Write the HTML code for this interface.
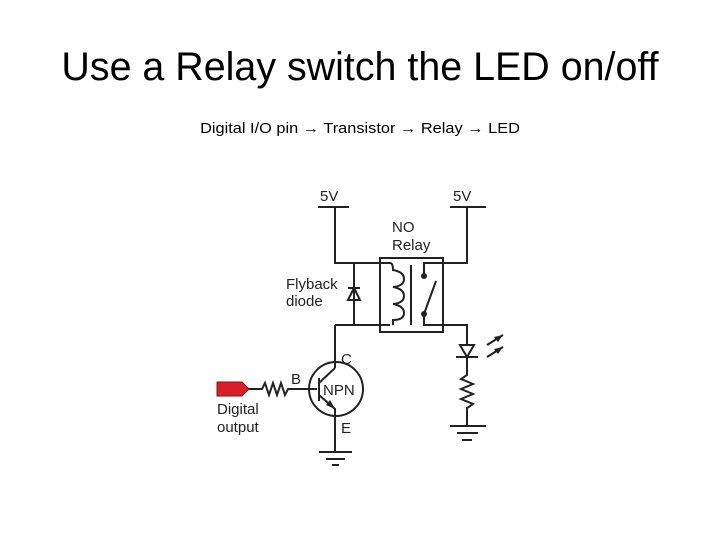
<!DOCTYPE html>
<html><head><style>
body{margin:0;width:720px;height:540px;background:#fff;overflow:hidden;position:relative;font-family:"Liberation Sans",sans-serif}
.t{position:absolute;left:0;width:720px;text-align:center;white-space:nowrap}
</style></head><body>
<div class="t" style="top:42px;font-size:40px;line-height:50px;transform:scaleX(0.985)">Use a Relay switch the LED on/off</div>
<div class="t" style="top:119px;font-size:15px;line-height:20px;transform:scaleX(1.09)">Digital I/O pin → Transistor → Relay → LED</div>
<svg width="720" height="540" style="position:absolute;left:0;top:0" font-family="Liberation Sans, sans-serif" font-size="15" fill="#222">
<g stroke="#222" stroke-width="2" fill="none">
<path d="M318 207H349M335 207V263H390M450 207H486M467 207V263H424V275"/>
<path d="M354 263V325M335 325H390M335 325V368"/>
<rect x="380" y="258" width="63" height="74"/>
<path d="M390 263Q393 263 393 270Q404 272 404 279Q404 286 393 287Q404 289 404 296Q404 303 393 304Q404 306 404 313Q404 320 393 320V325"/>
<path d="M411 265V325"/>
<path d="M424 314L436 281M424 314V325H467V345"/>
<path d="M456 357H478M467 357V375L461 379L473 384L461 389L473 394L461 399L473 404L467 408V426M450 426H486M457 433H478M462 440H472"/>
<path d="M487 345L503 335M487 357L503 347"/>
<circle cx="336" cy="389" r="27"/>
<path d="M248 389H262L265 383L269 395L273 383L277 395L281 383L285 395L288 389H317"/>
<path d="M319 378V401M319 383L335 368M319 395L335 409V452M319 452H352M326 459H345M332 465H339"/>
</g>
<g fill="#222">
<path d="M354 288L348 300H360Z" fill="none" stroke="#222" stroke-width="2"/>
<path d="M348 288H360" stroke="#222" stroke-width="2"/>
<path d="M467 357L460 345H474Z" fill="none" stroke="#222" stroke-width="2"/>
<circle cx="424" cy="276" r="3"/><circle cx="424" cy="314" r="3"/>
<path d="M503 335L494 337L498 342Z"/><path d="M503 347L494 349L498 354Z"/>
<path d="M335 409L326 405L330 400Z"/>
</g>
<path d="M217 382H242L249 389L242 396H217Z" fill="#d9202a" stroke="#8a1010" stroke-width="1"/>
<text x="320" y="201">5V</text><text x="453" y="201">5V</text>
<text x="392" y="232">NO</text><text x="392" y="250">Relay</text>
<text x="286" y="289">Flyback</text><text x="286" y="306">diode</text>
<text x="341" y="364">C</text><text x="291" y="384">B</text><text x="323" y="395">NPN</text>
<text x="341" y="433">E</text>
<text x="217" y="414">Digital</text><text x="217" y="432">output</text>
</svg>
</body></html>
